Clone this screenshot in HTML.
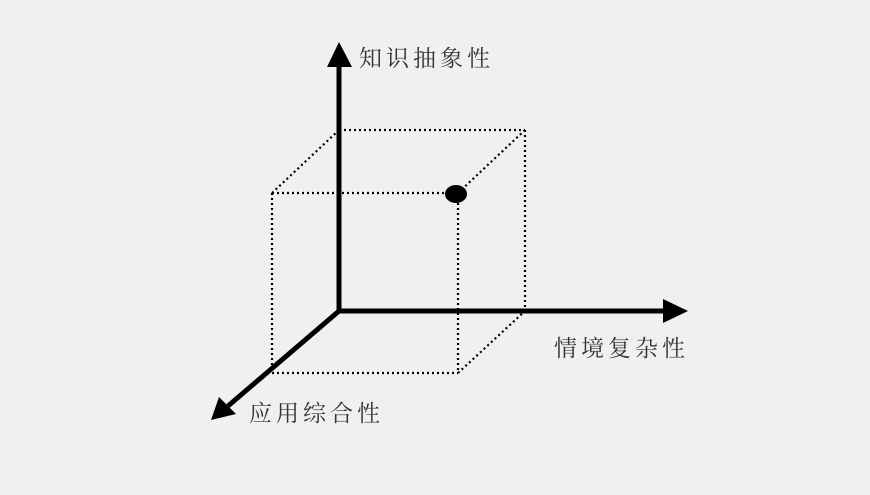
<!DOCTYPE html>
<html><head><meta charset="utf-8"><style>
html,body{margin:0;padding:0;background:#f0f0f0;}
body{width:870px;height:490px;overflow:hidden;}
</style></head><body>
<svg width="870" height="490" viewBox="0 0 870 490" xmlns="http://www.w3.org/2000/svg">
<rect width="870" height="490" fill="#f0f0f0"/>
<g stroke="#000" stroke-width="2.2" stroke-dasharray="2,3" fill="none">
<line x1="339" y1="130" x2="525" y2="130"/>
<line x1="525" y1="130" x2="525" y2="311"/>
<line x1="272" y1="193" x2="458" y2="193"/>
<line x1="272" y1="193" x2="272" y2="373"/>
<line x1="272" y1="373" x2="458" y2="373"/>
<line x1="458" y1="193" x2="458" y2="373"/>
<line x1="272" y1="193" x2="339" y2="130"/>
<line x1="458" y1="193" x2="525" y2="130"/>
<line x1="458" y1="373" x2="525" y2="311"/>
</g>
<g stroke="#000" stroke-width="5" fill="none">
<line x1="339" y1="311" x2="339" y2="62"/>
<line x1="337" y1="311" x2="666" y2="311"/>
<line x1="339" y1="311" x2="228" y2="406"/>
</g>
<polygon points="339,42 327,67 352,67" fill="#000"/>
<polygon points="688,311 663,299 663,323" fill="#000"/>
<polygon points="211,420 219,397 236,414" fill="#000"/>
<ellipse cx="456" cy="194" rx="11" ry="9" fill="#000"/>
<g font-family="Liberation Serif, Noto Serif CJK SC, serif" font-size="23" fill="#333" letter-spacing="4">
<text x="359" y="66">知识抽象性</text>
<text x="554" y="356">情境复杂性</text>
<text x="249" y="421">应用综合性</text>
</g>
</svg>
</body></html>
